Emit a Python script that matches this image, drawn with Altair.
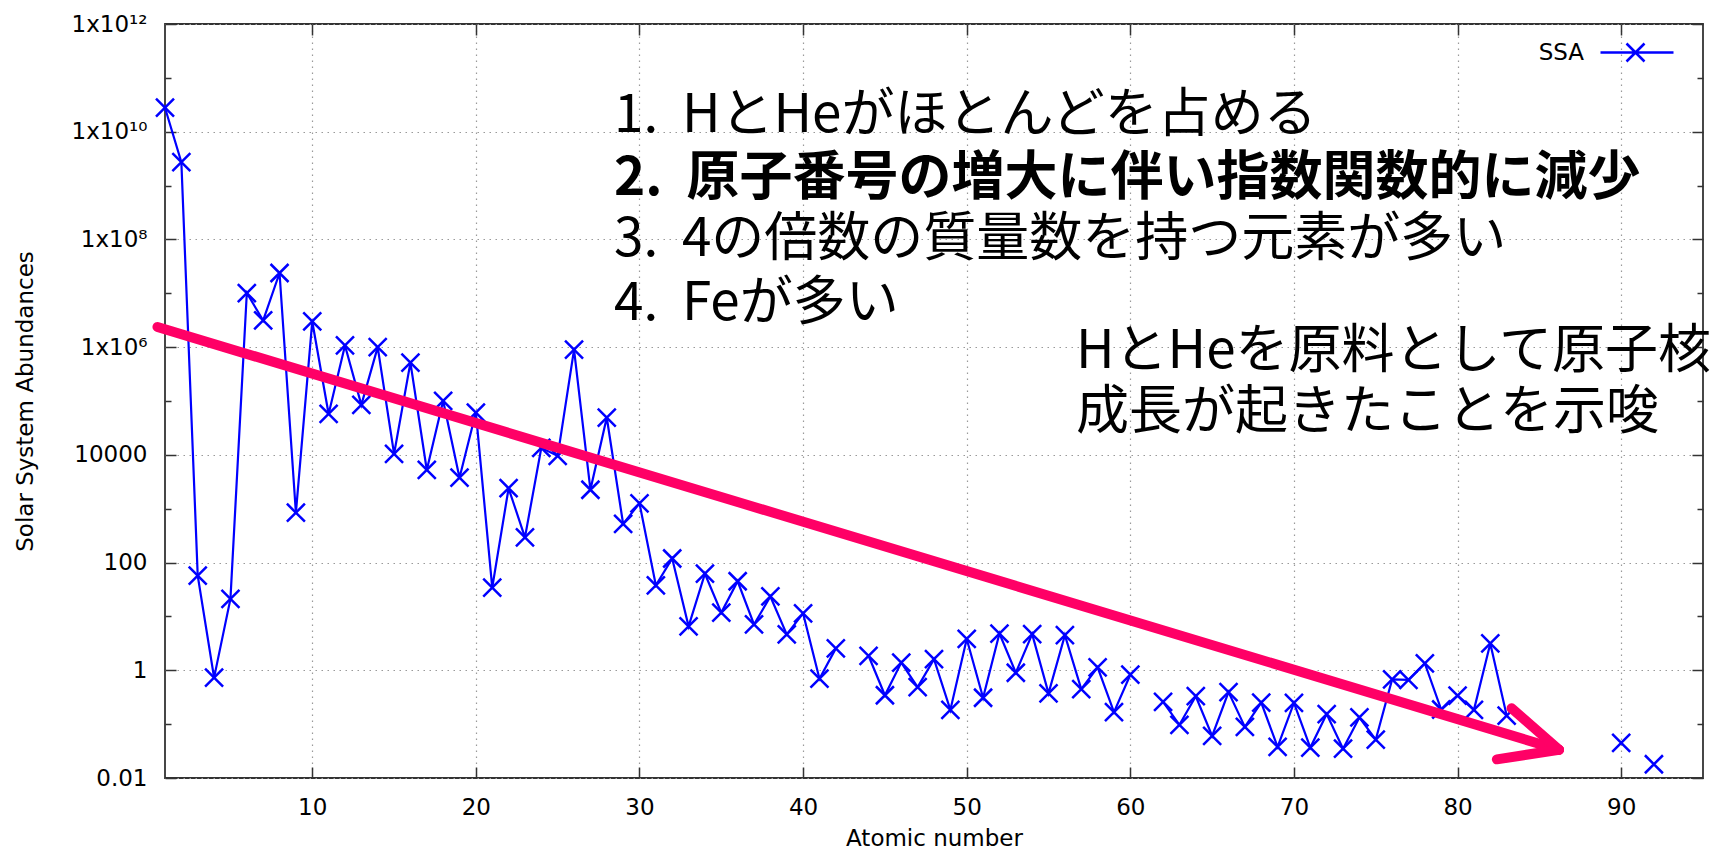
import altair as alt
import pandas as pd

# ---------------- data ----------------
atomic_number = [1, 2, 3, 4, 5, 6, 7, 8, 9, 10, 11, 12, 13, 14, 15, 16, 17, 18, 19, 20,
                 21, 22, 23, 24, 25, 26, 27, 28, 29, 30, 31, 32, 33, 34, 35, 36, 37, 38, 39, 40,
                 41, 42, 44, 45, 46, 47, 48, 49, 50, 51, 52, 53, 54, 55, 56, 57, 58, 59, 60,
                 62, 63, 64, 65, 66, 67, 68, 69, 70, 71, 72, 73, 74, 75, 76, 77, 78, 79, 80,
                 81, 82, 83, 90, 92]
abundance = [2.79e10, 2.72e9, 57.1, 0.73, 21.2, 1.01e7, 3.13e6, 2.38e7, 843, 3.0e6,
             5.74e4, 1.074e6, 8.49e4, 1.0e6, 1.04e4, 5.15e5, 5240, 1.01e5, 3770, 6.11e4,
             34.2, 2400, 293, 1.35e4, 9550, 9.0e5, 2250, 4.93e4, 522, 1260,
             37.8, 119, 6.56, 62.1, 11.8, 45, 7.09, 23.5, 4.64, 11.4,
             0.698, 2.55, 1.86, 0.344, 1.39, 0.486, 1.61, 0.184, 3.82, 0.309,
             4.81, 0.90, 4.7, 0.372, 4.49, 0.446, 1.136, 0.167, 0.828,
             0.258, 0.0973, 0.33, 0.0603, 0.394, 0.0889, 0.251, 0.0378, 0.248, 0.0367,
             0.154, 0.035, 0.133, 0.0517, 0.675, 0.661, 1.34, 0.187, 0.34,
             0.184, 3.15, 0.144, 0.045, 0.018]
series_name = "SSA"

x_tick_values = [10, 20, 30, 40, 50, 60, 70, 80, 90]
y_major_values = [1e-2, 1, 1e2, 1e4, 1e6, 1e8, 1e10, 1e12]
y_tick_labels = ["0.01", "1", "100", "10000", "1x10⁶", "1x10⁸", "1x10¹⁰", "1x10¹²"]
y_all_values = [10.0 ** e for e in range(-2, 13)]

# annotation arrow (data coordinates): shaft and the two arms of the head
arrow_part = ["shaft", "shaft", "arm1", "arm1", "arm2", "arm2"]
arrow_x = [0.54, 86.2, 83.3, 86.2, 82.4, 86.2]
arrow_y = [2.37e6, 0.0335, 0.197, 0.0335, 0.0222, 0.0335]
arrow_k = [0, 1, 0, 1, 0, 1]

GAP = "\u00a0\u00a0"
note_texts = ["1." + GAP + "HとHeがほとんどを占める",
              "2." + GAP + "原子番号の増大に伴い指数関数的に減少",
              "3." + GAP + "4の倍数の質量数を持つ元素が多い",
              "4." + GAP + "Feが多い",
              "HとHeを原料として原子核",
              "成長が起きたことを示唆"]
note_bold = [False, True, False, False, False, False]
note_x = [449, 449, 449, 449, 911, 911]
note_y = [92, 155, 216, 280, 328, 389]

# ---------------- layout ----------------
W, H = 1538, 754
FRAME = "#333333"
BLUE = "#0000ff"
PINK = "#ff0066"
AXFONT = "DejaVu Sans"
JPFONT = "Noto Sans CJK JP"

df = pd.DataFrame({"z": atomic_number, "abund": abundance})
df["seg"] = (df["z"].diff().fillna(1) > 1).cumsum()
df["series"] = series_name

arrow_df = pd.DataFrame({"part": arrow_part, "ax": arrow_x, "ay": arrow_y, "k": arrow_k})

xscale = alt.Scale(domain=[1, 95], nice=False, zero=False)
yscale = alt.Scale(type="log", domain=[0.01, 1e12], nice=False)

# label expression built from the tick label list
expr = "'" + y_tick_labels[-1] + "'"
for v, lab in reversed(list(zip(y_major_values[:-1], y_tick_labels[:-1]))):
    expr = f"datum.value < {v * 3} ? '{lab}' : ({expr})"

even_decade = "round(log(datum.value) / LN10) % 2 == 0"
tick_size_cond = {"condition": {"test": even_decade, "value": 11}, "value": 6}

grid_common = dict(grid=True, gridColor="#9a9a9a", gridDash=[1.5, 4.5], gridWidth=1.2)

# legend symbol drawn to the right of the label (gnuplot style: "SSA  -x-")
legend_symbol = "M2.8,0L10.1,0M5.4,-0.9L7.2,0.9M5.4,0.9L7.2,-0.9"

line = alt.Chart(df).mark_line(strokeWidth=2.2, clip=False).encode(
    x=alt.X("z:Q", scale=xscale,
            axis=alt.Axis(orient="bottom", values=x_tick_values, ticks=False, tickSize=0,
                          domain=False, labelFont=AXFONT, labelFontSize=23, labelColor="#000000",
                          labelPadding=18, labelBaseline="top",
                          title="Atomic number", titleFont=AXFONT, titleFontSize=23,
                          titleFontWeight="normal", titleColor="#000000",
                          titleX=W / 2, titleY=60, titleAlign="center", titleBaseline="middle",
                          **grid_common)),
    y=alt.Y("abund:Q", scale=yscale,
            axis=alt.Axis(orient="left", values=y_major_values, labelExpr=expr, ticks=False,
                          tickSize=0, domain=False, labelFont=AXFONT, labelFontSize=23,
                          labelColor="#000000", labelPadding=18,
                          title="Solar System Abundances", titleFont=AXFONT, titleFontSize=23,
                          titleFontWeight="normal", titleColor="#000000",
                          titleX=-140, titleY=H / 2, titleAngle=270, titleAlign="center",
                          titleBaseline="middle",
                          **grid_common)),
    color=alt.Color("series:N", scale=alt.Scale(range=[BLUE]),
                    legend=alt.Legend(title=None, orient="none", legendX=1396, legendY=17,
                                      symbolType=legend_symbol,
                                      symbolSize=400, symbolStrokeWidth=2.5,
                                      symbolFillColor="transparent",
                                      labelFont=AXFONT, labelFontSize=23, labelColor="#000000",
                                      labelAlign="right", labelOffset=0)),
    detail="seg:N",
)

points = alt.Chart(df).mark_point(
    shape="M-1,-1L1,1M-1,1L1,-1", size=324, filled=False, strokeWidth=2.5,
    color=BLUE, opacity=1, clip=False,
).encode(
    x=alt.X("z:Q", scale=xscale,
            axis=alt.Axis(orient="top", offset=-H, values=x_tick_values, labels=False,
                          grid=False, domain=False, ticks=True, tickSize=11,
                          tickColor=FRAME, tickWidth=1.5, title=None)),
    y=alt.Y("abund:Q", scale=yscale,
            axis=alt.Axis(orient="right", offset=-W, values=y_all_values, labels=False,
                          grid=False, domain=False, ticks=True, tickSize=tick_size_cond,
                          tickColor=FRAME, tickWidth=1.5, title=None)),
)

arrow = alt.Chart(arrow_df).mark_line(
    color=PINK, strokeWidth=10, strokeCap="round", strokeJoin="round", clip=False
).encode(
    x=alt.X("ax:Q", scale=xscale,
            axis=alt.Axis(orient="bottom", offset=-H, values=x_tick_values, labels=False,
                          grid=False, domain=False, ticks=True, tickSize=11,
                          tickColor=FRAME, tickWidth=1.5, title=None)),
    y=alt.Y("ay:Q", scale=yscale,
            axis=alt.Axis(orient="left", offset=-W, values=y_all_values, labels=False,
                          grid=False, domain=False, ticks=True, tickSize=tick_size_cond,
                          tickColor=FRAME, tickWidth=1.5, title=None)),
    detail="part:N",
    order="k:Q",
)

texts = []
for t, b, tx, ty in zip(note_texts, note_bold, note_x, note_y):
    texts.append(
        alt.Chart(pd.DataFrame({"t": [t]})).mark_text(
            align="left", baseline="middle", font=JPFONT, fontSize=53,
            fontWeight="bold" if b else "normal", color="#000000", clip=False,
        ).encode(text="t:N", x=alt.value(tx), y=alt.value(ty))
    )

chart = alt.layer(line, points, arrow, *texts).resolve_axis(
    x="independent", y="independent"
).properties(
    width=W, height=H,
    autosize=alt.AutoSizeParams(type="none"),
    padding={"left": 157, "top": 16, "right": 20, "bottom": 73},
).configure_view(stroke=FRAME, strokeWidth=1.8)

chart.save("out.html", embed_options={"renderer": "svg", "actions": False})
